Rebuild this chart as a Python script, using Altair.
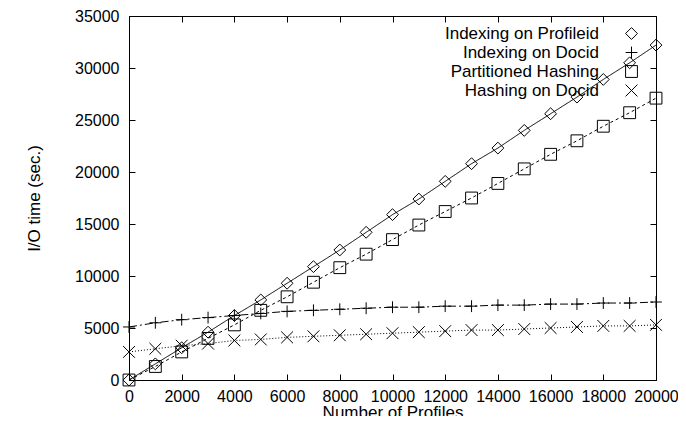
import altair as alt
import pandas as pd

profiles = [0, 1000, 2000, 3000, 4000, 5000, 6000, 7000, 8000, 9000, 10000,
            11000, 12000, 13000, 14000, 15000, 16000, 17000, 18000, 19000, 20000]

series_names = ["Indexing on Profileid", "Indexing on Docid",
                "Partitioned Hashing", "Hashing on Docid"]

idx_profileid = [0, 1550, 3100, 4600, 6200, 7700, 9300, 10900, 12500, 14200, 15900,
                 17400, 19100, 20800, 22300, 24000, 25600, 27200, 28900, 30500, 32200]
idx_docid = [5100, 5500, 5800, 6000, 6200, 6400, 6600, 6700, 6800, 6900, 7000,
             7000, 7100, 7100, 7200, 7200, 7300, 7300, 7400, 7400, 7500]
part_hash = [0, 1300, 2700, 4000, 5300, 6700, 8000, 9400, 10800, 12100, 13500,
             14900, 16200, 17500, 18900, 20300, 21700, 23000, 24400, 25700, 27100]
hash_docid = [2700, 3000, 3300, 3500, 3800, 3900, 4100, 4200, 4300, 4400, 4500,
              4600, 4700, 4800, 4800, 4900, 5000, 5100, 5200, 5200, 5300]

x_ticks = [0, 2000, 4000, 6000, 8000, 10000, 12000, 14000, 16000, 18000, 20000]
y_ticks = [0, 5000, 10000, 15000, 20000, 25000, 30000, 35000]

rows = []
for name, vals in zip(series_names, [idx_profileid, idx_docid, part_hash, hash_docid]):
    for p, v in zip(profiles, vals):
        rows.append({"profiles": p, "io": v, "series": name})
df = pd.DataFrame(rows)

FONT = "Liberation Sans"

xscale = alt.Scale(domain=[0, 20000], nice=False, zero=False)
yscale = alt.Scale(domain=[0, 35000], nice=False)

dashes = [[1, 0], [8, 3, 2, 3], [3, 3], [1, 2]]
shape_scale = alt.Scale(domain=series_names,
                        range=["diamond", "M-1,0L1,0M0,-1L0,1", "square",
                               "M-1,-1L1,1M-1,1L1,-1"])

layers = []
for i, (name, dash) in enumerate(zip(series_names, dashes)):
    if i == 0:
        xax = alt.Axis(title="Number of Profiles", values=x_ticks, orient="bottom",
                       format="d", offset=-6, tickSize=6, domain=False, grid=False,
                       labelPadding=8, titlePadding=0, labelFlush=False,
                       labelOverlap=False)
        yax = alt.Axis(title="I/O time (sec.)", values=y_ticks, orient="left",
                       format="d", offset=-6, tickSize=6, domain=False, grid=False,
                       labelPadding=10, titlePadding=31, labelFlush=False,
                       labelOverlap=False)
    else:
        xax = None
        yax = None
    layers.append(
        alt.Chart(df).transform_filter(alt.datum.series == name)
        .mark_line(color="black", strokeWidth=1, strokeDash=dash)
        .encode(x=alt.X("profiles:Q", scale=xscale, axis=xax),
                y=alt.Y("io:Q", scale=yscale, axis=yax))
    )

points = alt.Chart(df).mark_point(filled=False, color="black", strokeWidth=1,
                                  size=140, opacity=1).encode(
    x=alt.X("profiles:Q", scale=xscale,
            axis=alt.Axis(title=None, values=x_ticks, orient="top", offset=-6,
                          tickSize=6, domain=False, grid=False, labels=False)),
    y=alt.Y("io:Q", scale=yscale,
            axis=alt.Axis(title=None, values=y_ticks, orient="right", offset=-6,
                          tickSize=6, domain=False, grid=False, labels=False)),
    shape=alt.Shape("series:N", scale=shape_scale,
                    legend=alt.Legend(title=None, orient="none", legendX=494, legendY=9,
                                      labelAlign="right", labelOffset={"expr": "-41"},
                                      symbolStrokeColor="black", symbolSize=140,
                                      symbolStrokeWidth=1,
                                      labelFontSize=17, labelFont=FONT, labelColor="black",
                                      rowPadding=1, padding=0, labelLimit=300)),
)

chart = alt.layer(*layers, points).resolve_axis(x="independent", y="independent").properties(
    width=527, height=364,
    background="white",
    autosize=alt.AutoSizeParams(type="none"),
    padding={"left": 121, "top": 8, "right": 22, "bottom": 36},
).configure_view(stroke="black", strokeWidth=1).configure_axis(
    labelFont=FONT, titleFont=FONT, labelFontSize=16, titleFontSize=17,
    labelColor="black", titleColor="black", tickColor="black",
    titleFontWeight="normal",
)

chart.save("out.html", embed_options={"renderer": "svg", "actions": False})
